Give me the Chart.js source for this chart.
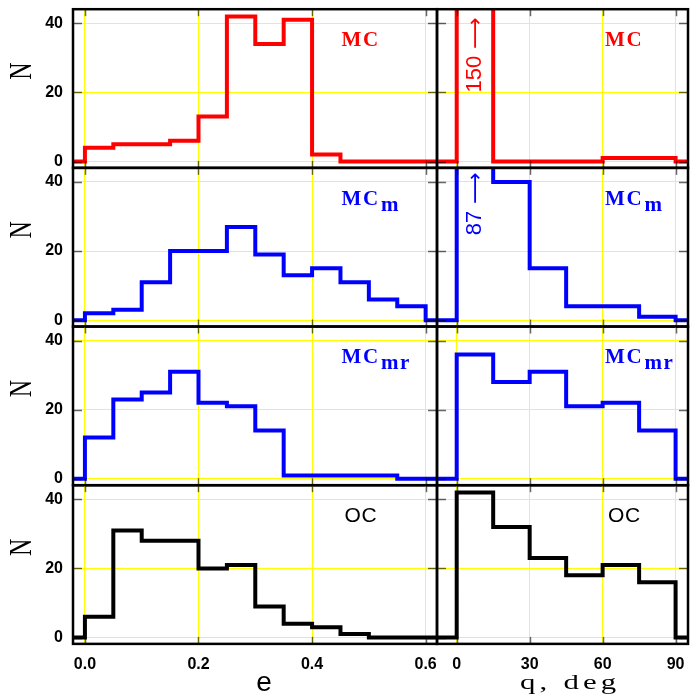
<!DOCTYPE html>
<html>
<head>
<meta charset="utf-8">
<script src="https://cdn.jsdelivr.net/npm/chart.js@4/dist/chart.umd.min.js"></script>
<style>
  html, body { margin: 0; padding: 0; background: #ffffff; }
  #wrap { position: relative; width: 690px; height: 697px; overflow: hidden; background: #ffffff; }
  #wrap canvas { position: absolute; left: 0; top: 0; }
</style>
</head>
<body>
<div id="wrap"></div>
<script>
// ---- data ---------------------------------------------------------------
// bin edges: eccentricity in steps of 0.05, inclination q in steps of 15 deg
const eEdges = [0.00, 0.05, 0.10, 0.15, 0.20, 0.25, 0.30, 0.35, 0.40, 0.45, 0.50, 0.55, 0.60];
const qEdges = [0, 15, 30, 45, 60, 75, 90];

const eTicks = [0.0, 0.2, 0.4, 0.6];
const qTicks = [0, 30, 60, 90];
const nTicks = [0, 20, 40];

// counts per bin
const mcE   = [4, 5, 5, 6, 13, 42, 34, 41, 2, 0, 0, 0];
const mcQ   = [150, 0, 0, 0, 1, 1];
const mcmE  = [2, 3, 11, 20, 20, 27, 19, 13, 15, 11, 6, 4];
const mcmQ  = [87, 40, 15, 4, 4, 1];
const mcmrE = [12, 23, 25, 31, 22, 21, 14, 1, 1, 1, 1, 0];
const mcmrQ = [36, 28, 31, 21, 22, 14];
const ocE   = [6, 31, 28, 28, 20, 21, 9, 4, 3, 1, 0, 0];
const ocQ   = [42, 32, 23, 18, 21, 16];

const rowNames  = ['MC', 'MC', 'MC', 'OC'];
const rowSubs   = ['', 'm', 'mr', ''];
const rowColors = ['#ff0000', '#0000ff', '#0000ff', '#000000'];
const rowE = [mcE, mcmE, mcmrE, ocE];
const rowQ = [mcQ, mcmQ, mcmrQ, ocQ];

// ---- layout -------------------------------------------------------------
const W = 690, H = 697;
const X_LEFT = 73, X_MID = 437, X_RIGHT = 688;
const ROW_TOP = 9.2, ROW_H = 158.67;
const E_RANGE = [-0.021, 0.620];
const Q_RANGE = [-8.1, 95.1];
const N_RANGE = [-1.84, 44.08];
// where the off-scale counts are written (N value at the start of the text)
const NOTE_N = [20, 24.6, null, null];

const wrap = document.getElementById('wrap');

function stepPoints(edges, counts, lo, hi) {
  const pts = [{ x: lo, y: 0 }];
  counts.forEach((c, i) => pts.push({ x: edges[i], y: c }));
  pts.push({ x: edges[edges.length - 1], y: 0 });
  pts.push({ x: hi, y: 0 });
  return pts;
}

function drawSpaced(ctx, text, x, y, spacing) {
  let cx = x;
  for (const ch of text) {
    ctx.fillText(ch, cx, y);
    cx += ctx.measureText(ch).width + spacing;
  }
  return cx - spacing;
}

function line(ctx, x1, y1, x2, y2) {
  ctx.beginPath(); ctx.moveTo(x1, y1); ctx.lineTo(x2, y2); ctx.stroke();
}

function makePanel(r, c) {
  const isLeft = c === 0;
  const isBottom = r === 3;
  const top = ROW_TOP + r * ROW_H;
  const bottom = top + ROW_H;
  const edges = isLeft ? eEdges : qEdges;
  const counts = isLeft ? rowE[r] : rowQ[r];
  const range = isLeft ? E_RANGE : Q_RANGE;
  const ticks = isLeft ? eTicks : qTicks;
  const color = rowColors[r];

  const canvas = document.createElement('canvas');
  canvas.width = W; canvas.height = H;
  wrap.appendChild(canvas);

  const decor = {
    id: 'panelDecor',
    afterDatasetsDraw(chart) {
      const { ctx, chartArea: a } = chart;
      const xs = chart.scales.x, ys = chart.scales.y;
      ctx.save();

      // inward tick marks on all four sides
      ctx.strokeStyle = 'rgba(0,0,0,0.6)';
      ctx.lineWidth = 1.5;
      xs.ticks.forEach(t => {
        const px = Math.round(xs.getPixelForValue(t.value)) + 0.5;
        line(ctx, px, a.top, px, a.top + 7);
        line(ctx, px, a.bottom, px, a.bottom - 7);
      });
      ys.ticks.forEach(t => {
        const py = Math.round(ys.getPixelForValue(t.value)) + 0.5;
        line(ctx, a.left, py, a.left + 9, py);
        line(ctx, a.right, py, a.right - 9, py);
      });

      // frame
      ctx.strokeStyle = '#000000';
      ctx.lineWidth = 2.5;
      ctx.strokeRect(a.left, a.top, a.right - a.left, a.bottom - a.top);

      // panel name
      ctx.fillStyle = color;
      ctx.textBaseline = 'alphabetic';
      ctx.textAlign = 'left';
      const lx = xs.getPixelForValue(isLeft ? 0.452 : 61);
      const ly = ys.getPixelForValue(33.4);
      if (rowNames[r] === 'OC') {
        ctx.font = '21px "Liberation Sans"';
        drawSpaced(ctx, 'OC', lx + 3, ly, 0.5);
      } else {
        ctx.font = 'bold 21px "Liberation Serif"';
        const end = drawSpaced(ctx, rowNames[r], lx, ly, 1.5);
        if (rowSubs[r]) drawSpaced(ctx, rowSubs[r], end + 3, ly + 6, 1.5);
      }

      // count of the first q bin when it runs off the top of the axis
      if (!isLeft && counts[0] > N_RANGE[1] && NOTE_N[r] !== null) {
        const px = xs.getPixelForValue((qEdges[0] + qEdges[1]) / 2);
        const py = ys.getPixelForValue(NOTE_N[r]);
        ctx.save();
        ctx.translate(px, py);
        ctx.rotate(-Math.PI / 2);
        ctx.textBaseline = 'middle';
        ctx.font = '22px "Liberation Sans"';
        const txt = String(counts[0]);
        ctx.fillText(txt, 0, 0);
        const w = ctx.measureText(txt).width;
        ctx.font = '22px "DejaVu Sans"';
        ctx.fillText('\u27F6', w + 7, 1);
        ctx.restore();
      }

      // y title
      if (isLeft) {
        ctx.save();
        ctx.fillStyle = '#000000';
        ctx.translate(a.left - 50.5, a.top + 62);
        ctx.rotate(-Math.PI / 2);
        ctx.scale(1, 1.3);
        ctx.textAlign = 'center';
        ctx.textBaseline = 'middle';
        ctx.font = '24px "Liberation Serif"';
        ctx.fillText('N', 0, 0);
        ctx.restore();
      }

      // x titles
      if (isBottom) {
        ctx.fillStyle = '#000000';
        if (isLeft) {
          ctx.font = '28px "Liberation Sans"';
          ctx.textAlign = 'center';
          ctx.fillText('e', a.left + 191, a.bottom + 47.5);
        } else {
          ctx.save();
          ctx.translate(a.left + 83, a.bottom + 45);
          ctx.scale(1.4, 1);
          ctx.font = '22px "Liberation Serif"';
          ctx.textAlign = 'left';
          drawSpaced(ctx, 'q, deg', 0, 0, 3);
          ctx.restore();
        }
      }
      ctx.restore();
    }
  };

  const tickFont = { family: '"Liberation Sans"', size: 16, weight: 'bold' };

  return new Chart(canvas, {
    type: 'line',
    data: {
      datasets: [{
        data: stepPoints(edges, counts, range[0], range[1]),
        borderColor: color,
        borderWidth: 4,
        pointRadius: 0,
        fill: false,
        stepped: true,
        tension: 0,
        borderJoinStyle: 'miter',
        borderCapStyle: 'butt',
        clip: 0
      }]
    },
    options: {
      responsive: false,
      animation: false,
      events: [],
      layout: {
        padding: {
          left: isLeft ? 0 : X_MID,
          right: isLeft ? W - X_MID : W - X_RIGHT,
          top: top,
          bottom: isBottom ? 0 : H - bottom
        }
      },
      plugins: { legend: { display: false }, tooltip: { enabled: false } },
      scales: {
        x: {
          type: 'linear',
          min: range[0],
          max: range[1],
          afterBuildTicks: s => { s.ticks = ticks.map(v => ({ value: v })); },
          afterFit: s => {
            s.height = isBottom ? H - bottom : 0;
            s.paddingLeft = 0; s.paddingRight = 0; s.paddingTop = 0; s.paddingBottom = 0;
          },
          grid: { color: '#ffff00', lineWidth: 1, drawTicks: false },
          border: { display: false },
          ticks: {
            display: isBottom,
            padding: 11,
            color: '#000000',
            font: tickFont,
            maxRotation: 0,
            autoSkip: false,
            callback: v => isLeft ? v.toFixed(1) : String(v)
          }
        },
        y: {
          type: 'linear',
          min: N_RANGE[0],
          max: N_RANGE[1],
          afterBuildTicks: s => { s.ticks = nTicks.map(v => ({ value: v })); },
          afterFit: s => {
            s.width = isLeft ? X_LEFT : 0;
            s.paddingLeft = 0; s.paddingRight = 0; s.paddingTop = 0; s.paddingBottom = 0;
          },
          grid: { color: '#ffff00', lineWidth: 1, drawTicks: false },
          border: { display: false },
          ticks: {
            display: isLeft,
            padding: 10,
            color: '#000000',
            font: tickFont,
            autoSkip: false,
            callback: v => String(v)
          }
        }
      }
    },
    plugins: [decor]
  });
}

for (let r = 0; r < 4; r++) {
  for (let c = 0; c < 2; c++) makePanel(r, c);
}
</script>
</body>
</html>
